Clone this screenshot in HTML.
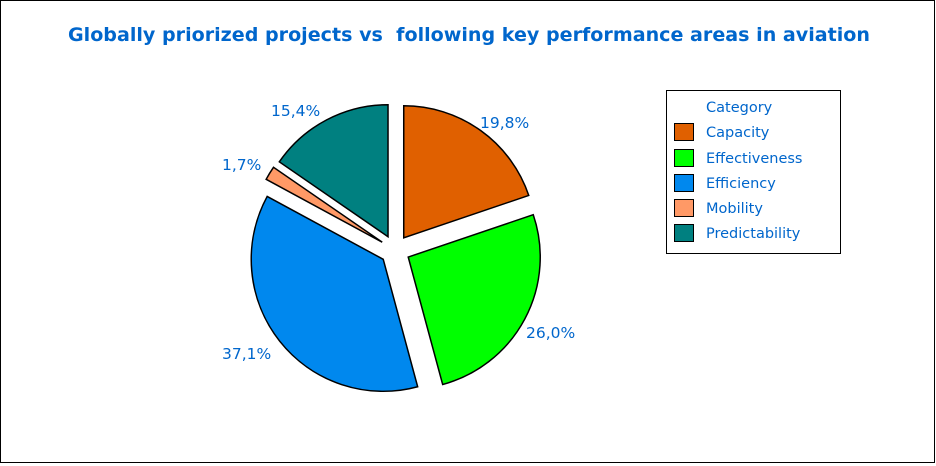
<!DOCTYPE html>
<html><head><meta charset="utf-8"><style>
html,body{margin:0;padding:0;background:#fff;}
svg{display:block;font-family:"DejaVu Sans","Liberation Sans",sans-serif;}
</style></head><body>
<svg width="936" height="466" viewBox="0 0 936 466" xmlns="http://www.w3.org/2000/svg">
<rect x="0.5" y="0.5" width="934" height="462" fill="#fff" stroke="#000" stroke-width="1"/>
<text x="68" y="41" textLength="802" lengthAdjust="spacingAndGlyphs" font-family="DejaVu Sans,sans-serif" font-weight="bold" font-size="19" fill="#0066cc">Globally priorized projects vs&#160; following key performance areas in aviation</text>
<g id="pie" stroke="#000" stroke-width="1.5"></g>
<g font-size="15.5" fill="#0066cc">
<text x="480" y="128">19,8%</text>
<text x="526" y="338">26,0%</text>
<text x="222" y="359">37,1%</text>
<text x="222" y="170">1,7%</text>
<text x="271" y="116">15,4%</text>
</g>
<rect x="666.5" y="90.5" width="174" height="163" fill="#fff" stroke="#000"/>
<g font-size="14.5" fill="#0066cc">
<text x="706" y="112">Category</text>
<text x="706" y="137">Capacity</text>
<text x="706" y="163">Effectiveness</text>
<text x="706" y="188">Efficiency</text>
<text x="706" y="213">Mobility</text>
<text x="706" y="238">Predictability</text>
</g>
<g stroke="#000" stroke-width="1">
<rect x="674.5" y="123.5" width="19" height="17" fill="#e06000"/>
<rect x="674.5" y="149.5" width="19" height="17" fill="#00ff00"/>
<rect x="674.5" y="174.5" width="19" height="17" fill="#0088ee"/>
<rect x="674.5" y="199.5" width="19" height="17" fill="#ff9966"/>
<rect x="674.5" y="224.5" width="19" height="17" fill="#008080"/>
</g>
</svg>
<script>
(function(){
var data=[[19.8,"#e06000"],[26.0,"#00ff00"],[37.1,"#0088ee"],[1.7,"#ff9966"],[15.4,"#008080"]];
var cx=395,cy=250,r=132,off=15,a=0,g=document.getElementById("pie"),h="";
function pt(x,y,ang,rr){return [x+rr*Math.sin(ang),y-rr*Math.cos(ang)];}
data.forEach(function(d){
 var s=a*Math.PI/180, e=(a+d[0]*3.6)*Math.PI/180, m=(s+e)/2;
 var o=pt(cx,cy,m,off), p1=pt(o[0],o[1],s,r), p2=pt(o[0],o[1],e,r);
 var large=(e-s)>Math.PI?1:0;
 h+='<path fill="'+d[1]+'" d="M'+o[0].toFixed(2)+','+o[1].toFixed(2)+' L'+p1[0].toFixed(2)+','+p1[1].toFixed(2)+' A'+r+','+r+' 0 '+large+' 1 '+p2[0].toFixed(2)+','+p2[1].toFixed(2)+' Z"/>';
 a+=d[0]*3.6;
});
g.innerHTML=h;
})();
</script>
</body></html>
